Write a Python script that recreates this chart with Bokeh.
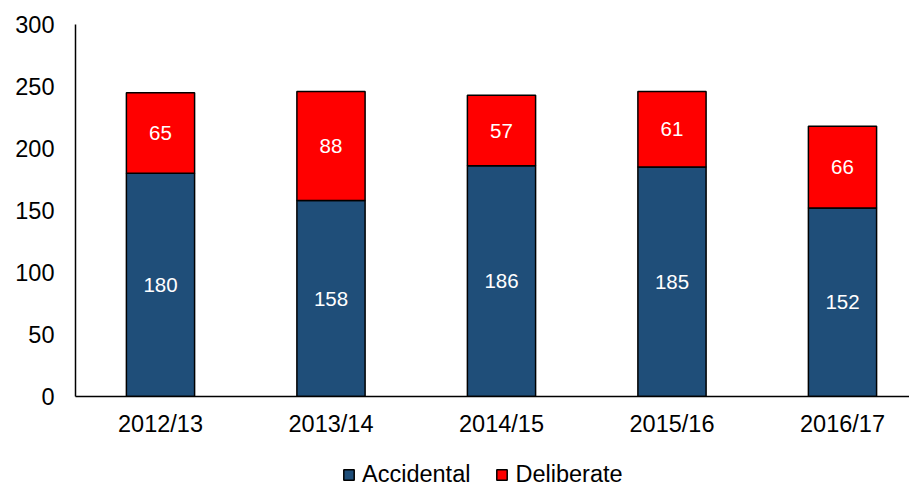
from bokeh.plotting import figure
from bokeh.layouts import column
from bokeh.models import (ColumnDataSource, Range1d, FixedTicker, Legend, LegendItem)
from bokeh.core.properties import value
from bokeh.embed import file_html
from bokeh.resources import INLINE

years = ["2012/13", "2013/14", "2014/15", "2015/16", "2016/17"]
accidental = [180, 158, 186, 185, 152]
deliberate = [65, 88, 57, 61, 66]
y_ticks = [0, 50, 100, 150, 200, 250, 300]
series_names = ["Accidental", "Deliberate"]

BLUE = "#1F4E79"
RED = "#FF0000"
FONT = "Liberation Sans"

xs = list(range(len(years)))
totals = [a + d for a, d in zip(accidental, deliberate)]
src = ColumnDataSource(dict(
    x=xs,
    acc=accidental,
    top=totals,
    acc_mid=[a / 2 for a in accidental],
    del_mid=[a + d / 2 for a, d in zip(accidental, deliberate)],
    acc_lbl=[str(a) for a in accidental],
    del_lbl=[str(d) for d in deliberate],
))

p = figure(width=909, height=448, output_backend="svg", toolbar_location=None,
           x_range=Range1d(-0.4985, 4.393), y_range=Range1d(0, 300),
           min_border_left=75, min_border_right=0, min_border_top=24,
           min_border_bottom=52)
p.outline_line_color = None
p.xgrid.grid_line_color = None
p.ygrid.grid_line_color = None

r_acc = p.vbar(x="x", width=0.4, bottom=0, top="acc", source=src,
               fill_color=BLUE, line_color="black", line_width=1.5)
r_del = p.vbar(x="x", width=0.4, bottom="acc", top="top", source=src,
               fill_color=RED, line_color="black", line_width=1.5)

p.text(x="x", y="acc_mid", text="acc_lbl", source=src, text_color="white",
       text_align="center", text_baseline="middle", text_font=value(FONT),
       text_font_size="20.5px")
p.text(x="x", y="del_mid", text="del_lbl", source=src, text_color="white",
       text_align="center", text_baseline="middle", text_font=value(FONT),
       text_font_size="20.5px")

p.yaxis.ticker = FixedTicker(ticks=y_ticks)
p.xaxis.ticker = FixedTicker(ticks=xs)
p.xaxis.major_label_overrides = {i: y for i, y in zip(xs, years)}
for ax in (p.xaxis, p.yaxis):
    ax.axis_line_color = "black"
    ax.axis_line_width = 1.5
    ax.major_tick_line_color = None
    ax.major_tick_out = 0
    ax.major_tick_in = 0
    ax.minor_tick_line_color = None
    ax.major_label_text_font = FONT
    ax.major_label_text_font_size = "23.5px"
    ax.major_label_text_color = "black"
p.yaxis.major_label_standoff = 21
p.xaxis.major_label_standoff = 14

# legend strip below the chart (same series as hidden renderers)
lg = figure(width=909, height=36, output_backend="svg", toolbar_location=None,
            x_range=Range1d(-0.4985, 4.393), y_range=Range1d(0, 300),
            x_axis_type=None, y_axis_type=None,
            min_border_left=0, min_border_right=0, min_border_top=0,
            min_border_bottom=0)
lg.outline_line_color = None
lg.xgrid.grid_line_color = None
lg.ygrid.grid_line_color = None
la = lg.vbar(x="x", width=0.4, bottom=0, top="acc", source=src,
             fill_color=BLUE, line_color="black", line_width=1.5, visible=False)
ld = lg.vbar(x="x", width=0.4, bottom="acc", top="top", source=src,
             fill_color=RED, line_color="black", line_width=1.5, visible=False)

legend = Legend(items=[LegendItem(label=series_names[0], renderers=[la]),
                       LegendItem(label=series_names[1], renderers=[ld])],
                orientation="horizontal", location=(267, -4),
                padding=0, margin=0, spacing=25, label_standoff=7,
                glyph_width=13, glyph_height=13, label_height=23,
                label_text_font=FONT, label_text_font_size="23.5px",
                label_text_color="black", border_line_color=None,
                background_fill_alpha=0)
lg.add_layout(legend, "center")

layout = column(p, lg, spacing=0)
open("out.html", "w").write(file_html(layout, INLINE))
